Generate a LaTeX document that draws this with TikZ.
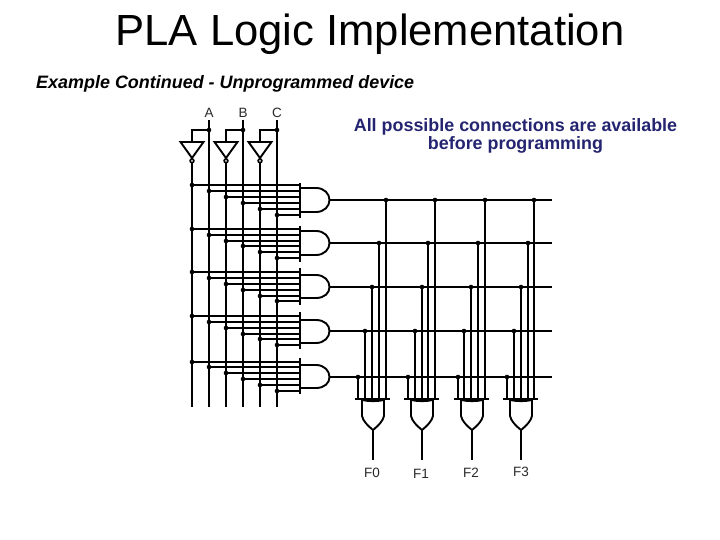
\documentclass[tikz,border=0pt]{standalone}
\usepackage{fontspec}
\setmainfont{Liberation Sans}
\definecolor{navy1}{RGB}{36,36,112}
\definecolor{lab}{RGB}{40,40,40}
\tikzset{
  wire/.style={line width=2pt,black},
  gateline/.style={line width=1.9pt,black},
  joint/.style={circle,fill=black,inner sep=0pt,minimum size=4.6pt},
  sig/.style={font=\fontsize{13.5}{15}\selectfont,text=lab,inner sep=0pt},
}
\newcommand{\dotat}[2]{\fill (#1,#2) circle[radius=2.3pt];}
\begin{document}
\begin{tikzpicture}[x=1pt,y=-1pt]
\useasboundingbox (0,0) rectangle (720,540);
\fill[white] (0,0) rectangle (720,540);
\node[inner sep=0pt,font=\fontsize{43.6}{48}\selectfont] (title) at (370,34) {PLA Logic Implementation};
\node[inner sep=0pt,anchor=west,font=\fontsize{17.95}{20}\selectfont\bfseries\itshape] (sub) at (36,84) {Example Continued - Unprogrammed device};
\node[inner sep=0pt,font=\fontsize{17.9}{18.5}\selectfont\bfseries,text=navy1,align=center] (note) at (515.5,136) {All possible connections are available\\before programming};
% inputs
\foreach \nm/\lx/\x/\nx in {A/209/209/192,B/243/243/226,C/277/277/260}{
  \node[sig] (lab\nm) at (\lx,112.5) {\nm};
  \coordinate (t\nm) at (\x,120);
  \coordinate (b\nm) at (\x,407);
  \coordinate (j\nm) at (\x,130);
  \draw[wire] (t\nm) -- (b\nm);
  \node[joint] at (j\nm) {};
  \coordinate (ni\nm) at (\nx,142);
  \draw[gateline] (j\nm) -- (\nx,130) -- (ni\nm);
  \draw[gateline] (\nx-11.5,142) -- (\nx+11.5,142) -- (\nx,158) -- cycle;
  \draw[line width=1.4pt,fill=black!30] (\nx,160.8) circle[radius=2pt];
  \draw[wire] (\nx,163) -- (\nx,407);
}
% AND gates
\foreach \n/\ya/\yb/\yc/\yd/\ye/\yf/\bt/\bb/\gt/\gb/\out in {
 1/185/191/197/203/209/215/183/218/188/212/200,
 2/229/235/241/246/252/258/226/262/231/255/243,
 3/272/278/284/290/296/301/268/305/275/298/287,
 4/316/322/328/334/339/345/312/349/320/343/331,
 5/362/367/373/379/385/391/358/394/365/388/377}{
  \foreach \x/\y in {192/\ya,209/\yb,226/\yc,243/\yd,260/\ye,277/\yf}{
    \draw[gateline] (\x,\y) -- (300,\y);
    \dotat{\x}{\y}
  }
  \draw[wire] (300,\bt) -- (300,\bb);
  \draw[gateline] (300,\gt) -- (316,\gt)
     .. controls (324.5,\gt) and (329.5,\out-6) .. (329.5,\out)
     .. controls (329.5,\out+6) and (324.5,\gb) .. (316,\gb) -- (300,\gb);
  \draw[wire] (329,\out) -- (552,\out);
}
% OR gates and product wires
\foreach \k/\xa/\xb/\xc/\xd/\xe/\cx/\lx/\ly/\tx in {
 0/358/365/372/379/386/373/372/473/F0,
 1/408/415/422/428/435/422/421/474/F1,
 2/458/464/471/478/485/472/471/473/F2,
 3/507/514/521/528/534/521/521/472/F3}{
  \foreach \x/\y in {\xa/377,\xb/331,\xc/287,\xd/243,\xe/200}{
    \draw[wire] (\x,\y) -- (\x,399);
    \dotat{\x}{\y}
  }
  \draw[wire] (\cx-18,399) -- (\cx+17,399);
  \draw[gateline] (\cx-11,399) -- (\cx-11,416) .. controls (\cx-10,421) and (\cx-5,426) .. (\cx,430)
     .. controls (\cx+5,426) and (\cx+10,421) .. (\cx+11,416) -- (\cx+11,399);
  \draw[gateline] (\cx-11,400) .. controls (\cx-4,401.5) and (\cx+4,401.5) .. (\cx+11,400);
  \draw[wire] (\cx,430) -- (\cx,460);
  \node[sig] (lab\tx) at (\lx,\ly) {\tx};
}
\end{tikzpicture}
\end{document}
